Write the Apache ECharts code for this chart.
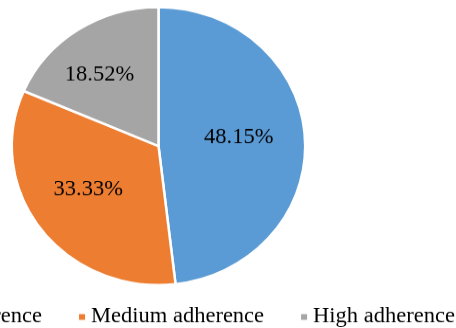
<!DOCTYPE html>
<html>
<head>
<meta charset="utf-8">
<script src="https://cdn.jsdelivr.net/npm/echarts@6/dist/echarts.min.js"></script>
<style>
  html, body { margin: 0; padding: 0; background: #fff; overflow: hidden; }
  /* the source picture is slightly squashed vertically, so draw taller and scale down */
  #chart { width: 456px; height: 346px; transform: scaleY(0.9476); transform-origin: 0 0; }
</style>
</head>
<body>
<div id="chart"></div>
<script>
var categories = ['Low adherence', 'Medium adherence', 'High adherence']
var counts = [13, 9, 5]
var percentLabels = ['48.15%', '33.33%', '18.52%']
var colors = ['#5B9BD5', '#ED7D31', '#A5A5A5']
// nudges so the labels sit where Excel put them
var labelOffsets = [[4, -5], [-9, 0], [-17, -11]]

var serif = '"Liberation Serif", "Times New Roman", serif'
var chart = echarts.init(document.getElementById('chart'))
chart.setOption({
  animation: false,
  color: colors,
  textStyle: { fontFamily: serif },
  legend: {
    data: categories,
    orient: 'horizontal',
    left: -115,
    top: 318,
    width: 700,
    itemWidth: 8,
    itemHeight: 8,
    itemGap: 35,
    icon: 'rect',
    textStyle: { fontSize: 22.5, color: '#000', fontFamily: serif }
  },
  series: [
    {
      type: 'pie',
      center: [158.5, 154.1],
      radius: 146.7,
      startAngle: 90,
      clockwise: true,
      itemStyle: { borderColor: '#fff', borderWidth: 2.5 },
      label: {
        show: true,
        position: 'inside',
        fontSize: 22.5,
        color: '#000',
        fontFamily: serif
      },
      labelLine: { show: false },
      emphasis: { disabled: true },
      data: categories.map(function (name, i) {
        return {
          name: name,
          value: counts[i],
          label: { formatter: percentLabels[i], offset: labelOffsets[i] }
        }
      })
    }
  ]
})
</script>
</body>
</html>
